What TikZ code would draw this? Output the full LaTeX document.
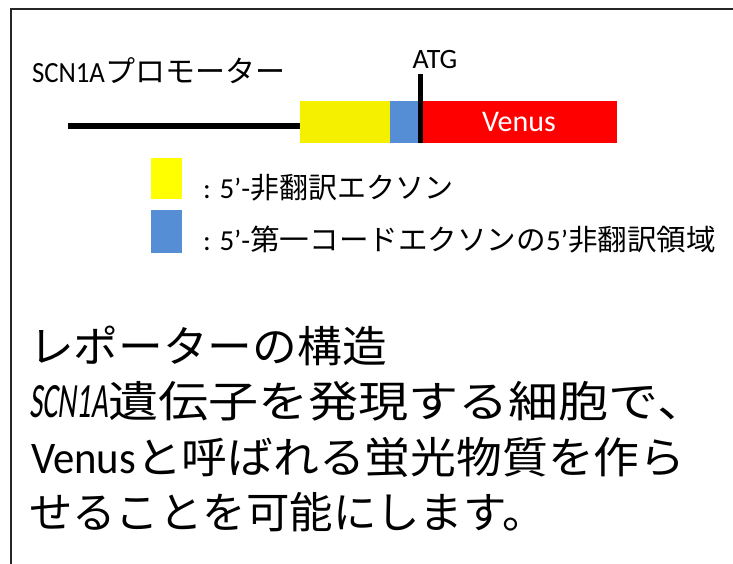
\documentclass[tikz,border=0pt]{standalone}
\usepackage{graphicx}
\usepackage{fontspec}
\setmainfont{Carlito}
\newfontfamily\latit[FakeSlant=0.2]{Carlito}
\newfontfamily\jp{Noto Sans CJK JP}
\newcommand{\fs}[1]{\fontsize{#1}{#1}\selectfont}
\newcommand{\xs}[2]{\scalebox{#1}[1]{#2}}
\definecolor{ybox}{HTML}{F4F000}
\definecolor{bbox}{HTML}{558ED5}
\definecolor{ylegend}{HTML}{FFFF00}
\definecolor{rbox}{HTML}{FF0000}
\begin{document}
\begin{tikzpicture}[x=1pt,y=-1pt,
  txt/.style={inner sep=0pt, outer sep=0pt, anchor=base west},
  seg/.style={draw=none, inner sep=0pt, outer sep=0pt, minimum height=42pt},
  heavy/.style={line width=5.5pt, draw=black}]
\useasboundingbox (0,0) rectangle (733,563);
\clip (0,0) rectangle (733,563);
\draw[line width=2pt, draw=black!85] (11,9) rectangle (760,600);

% construct
\node[seg, fill=ybox, minimum width=90pt] (utr) at (345,122) {};
\node[seg, fill=bbox, minimum width=31pt] (cutr) at (405.5,122) {};
\node[seg, fill=rbox, minimum width=196pt, text=white, font=\fs{30}] (venus) at (519,122) {Venus};
\coordinate (pstart) at (68,126);
\draw[heavy] (pstart) -- (utr.west |- pstart);
\coordinate (atgtop) at (420.5,74);
\draw[line width=5pt] (atgtop) -- (atgtop |- venus.south);
\node[txt, anchor=base] (atg) at (435,68) {\fs{28}ATG};
\node[txt] (prom) at (32,82) {\fs{28}\resizebox{73pt}{19pt}{SCN1A}{\jp\fs{30}プロモーター}};

% legend
\node[seg, fill=ylegend, minimum width=31pt, minimum height=41pt] (ly) at (166.5,178.5) {};
\node[seg, fill=bbox, minimum width=31pt, minimum height=43pt] (lb) at (166.5,231.5) {};
\node[txt] (lt1) at (203,198) {\fs{29}: 5’-{\jp 非翻訳エクソン}};
\node[txt] (lt2) at (203,250) {\fs{29}: 5’-\xs{1.02}{\jp 第一コードエクソンの}5’\xs{1.02}{\jp 非翻訳領域}};

% description
\node[txt] (l1) at (29,362) {\fs{43}\xs{1.04}{\jp レポーターの構造}};
\node[txt] (l2) at (29,417) {\fs{43}\resizebox{79pt}{32pt}{\latit SCN1A}\xs{1.165}{\jp 遺伝子を発現する細胞で、}};
\node[txt] (l3) at (31,473) {\fs{43}\resizebox{105pt}{29pt}{Venus}\xs{1.065}{\jp と呼ばれる蛍光物質を作ら}};
\node[txt] (l4) at (29,528) {\fs{43}\xs{1.01}{\jp せることを可能にします。}};
\end{tikzpicture}
\end{document}
